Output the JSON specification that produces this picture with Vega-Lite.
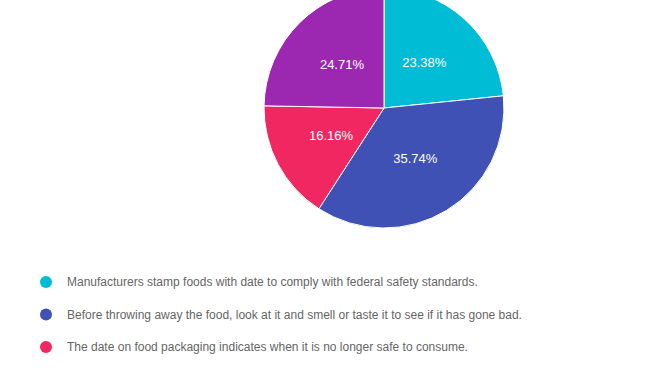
{
  "$schema": "https://vega.github.io/schema/vega-lite/v6.json",
  "autosize": "none",
  "width": 576,
  "height": 216,
  "padding": {"left": 96, "top": 0, "right": 0, "bottom": 156},
  "background": "white",
  "config": {"view": {"stroke": null}, "font": "Liberation Sans"},
  "data": {
    "values": [
      {"answer": "Manufacturers stamp foods with date to comply with federal safety standards.", "pct": 23.38, "label": "23.38%", "order": 1},
      {"answer": "Before throwing away the food, look at it and smell or taste it to see if it has gone bad.", "pct": 35.74, "label": "35.74%", "order": 2},
      {"answer": "The date on food packaging indicates when it is no longer safe to consume.", "pct": 16.16, "label": "16.16%", "order": 3},
      {"answer": "Other", "pct": 24.71, "label": "24.71%", "order": 4}
    ]
  },
  "encoding": {
    "theta": {"field": "pct", "type": "quantitative", "stack": true},
    "order": {"field": "order", "type": "quantitative"}
  },
  "layer": [
    {
      "mark": {"type": "arc", "outerRadius": 120, "stroke": "white", "strokeWidth": 1},
      "encoding": {
        "color": {
          "field": "answer",
          "type": "nominal",
          "sort": {"field": "order"},
          "scale": {
            "domain": [
              "Manufacturers stamp foods with date to comply with federal safety standards.",
              "Before throwing away the food, look at it and smell or taste it to see if it has gone bad.",
              "The date on food packaging indicates when it is no longer safe to consume.",
              "Other"
            ],
            "range": ["#00BCD4", "#3F51B5", "#F12762", "#9C27B0"]
          },
          "legend": {
            "title": null,
            "orient": "none",
            "legendX": -56,
            "legendY": 276,
            "direction": "vertical",
            "values": [
              "Manufacturers stamp foods with date to comply with federal safety standards.",
              "Before throwing away the food, look at it and smell or taste it to see if it has gone bad.",
              "The date on food packaging indicates when it is no longer safe to consume."
            ],
            "symbolType": "circle",
            "symbolSize": 144,
            "symbolStrokeWidth": 0,
            "labelFontSize": 12,
            "labelColor": "#666666",
            "labelFont": "Liberation Sans",
            "labelOffset": 15,
            "labelLimit": 600,
            "rowPadding": 20.5
          }
        }
      }
    },
    {
      "mark": {"type": "text", "radius": 60, "color": "white", "fontSize": 13, "font": "Liberation Sans"},
      "encoding": {"text": {"field": "label"}}
    }
  ]
}
